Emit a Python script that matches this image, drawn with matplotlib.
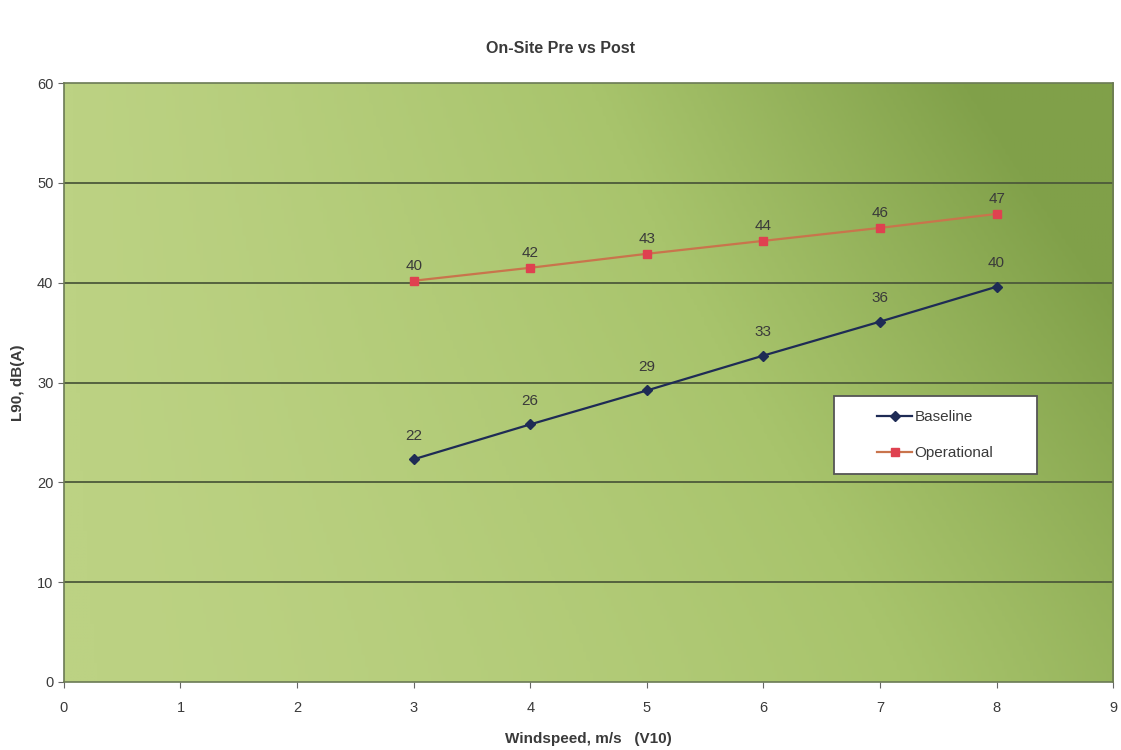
import numpy as np
import matplotlib.pyplot as plt
from matplotlib.colors import LinearSegmentedColormap
from matplotlib.patches import Rectangle

# data
windspeed = [3, 4, 5, 6, 7, 8]
baseline = [22.3, 25.8, 29.2, 32.7, 36.1, 39.6]
operational = [40.2, 41.5, 42.9, 44.2, 45.5, 46.9]
xticks = list(range(0, 10))
yticks = list(range(0, 61, 10))

txt = '#3a3a3a'
plt.rcParams['font.family'] = ['Liberation Sans', 'DejaVu Sans']

fig = plt.figure(figsize=(11.21, 7.5), dpi=100)
ax = fig.add_axes([0.057, 0.091, 0.936, 0.798])

# gradient background: lighter at left/bottom, darker top right
gx, gy = np.meshgrid(np.linspace(0, 1, 300), np.linspace(0, 1, 200))
t = np.clip(0.7 * gx ** 1.5 + 0.5 * gy ** 1.2 * gx, 0, 1)
cmap = LinearSegmentedColormap.from_list('bg', ['#bcd283', '#a8c46c', '#80a049'])
ax.imshow(t, cmap=cmap, extent=[0, 9, 0, 60], origin='lower',
          aspect='auto', zorder=0, vmin=0, vmax=1)

for yv in yticks[1:-1]:
    ax.axhline(yv, color='#4d5a3a', lw=1.3, zorder=1)

ax.plot(windspeed, baseline, color='#1e2b55', lw=1.6, marker='D', ms=5,
        label='Baseline', zorder=3)
ax.plot(windspeed, operational, color='#c9744c', lw=1.6, marker='s', ms=6,
        mfc='#df4150', mec='#df4150', label='Operational', zorder=3)

for xv, yv in zip(windspeed, baseline):
    ax.annotate(f'{yv:.0f}', (xv, yv), xytext=(0, 14), textcoords='offset points',
                ha='center', fontsize=11, color=txt)
for xv, yv in zip(windspeed, operational):
    ax.annotate(f'{yv:.0f}', (xv, yv), xytext=(0, 8), textcoords='offset points',
                ha='center', fontsize=11, color=txt)

ax.set_xlim(0, 9)
ax.set_ylim(0, 60)
ax.set_xticks(xticks)
ax.set_yticks(yticks)
ax.tick_params(colors=txt, labelsize=10.5, length=4, color='#666666')
ax.tick_params(axis='x', pad=10)
for s in ax.spines.values():
    s.set_color('#6b7a55')
    s.set_linewidth(1.2)

ax.set_xlabel('Windspeed, m/s   (V10)', fontsize=11, fontweight='bold', color=txt, labelpad=12)
ax.set_ylabel('L90, dB(A)', fontsize=11, fontweight='bold', color=txt)
ax.yaxis.set_label_coords(-0.037, 0.5)
fig.suptitle('On-Site Pre vs Post', y=0.945, fontsize=11.5, fontweight='bold', color=txt)

# legend box drawn by hand, entries placed inside
ax.add_patch(Rectangle((0.734, 0.347), 0.1935, 0.130, transform=ax.transAxes,
                       facecolor='white', edgecolor='#555555', lw=1.3, zorder=4))
leg = ax.legend(loc='center left', bbox_to_anchor=(0.775, 0.412), fontsize=11,
                frameon=False, handlelength=2.3, borderpad=0, borderaxespad=0,
                labelspacing=1.4, handletextpad=0.15)
leg.set_zorder(5)
for t_ in leg.get_texts():
    t_.set_color(txt)

fig.savefig('out.png', dpi=100)
